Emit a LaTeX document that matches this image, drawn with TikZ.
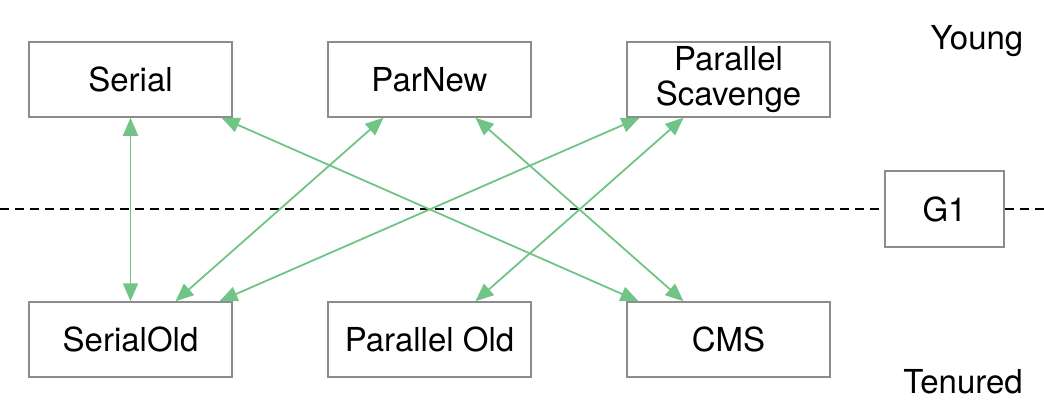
\documentclass[tikz,border=0pt]{standalone}
\usepackage{fontspec}
\setmainfont{TeX Gyre Heros}
\usetikzlibrary{arrows.meta}
\definecolor{gcgreen}{RGB}{112,196,134}
\definecolor{boxgray}{RGB}{140,140,140}
\begin{document}
\begin{tikzpicture}[x=1pt,y=-1pt,
  gcbox/.style={draw=boxgray,line width=1.5pt,minimum width=203pt,minimum height=75pt,inner sep=0pt,font=\fontsize{33}{35}\selectfont,align=center},
  link/.style={draw=gcgreen,line width=1.8pt,{Triangle[length=18pt,width=15pt]}-{Triangle[length=18pt,width=15pt]}},
  lbl/.style={font=\fontsize{33}{35}\selectfont,inner sep=0pt}]
\useasboundingbox (0,0) rectangle (1044,420);
\node[gcbox] (serial) at (130.5,79.5) {Serial};
\node[gcbox] (parnew) at (429.5,79.5) {ParNew};
\node[gcbox] (ps) at (728.5,79.5) {Parallel\\Scavenge};
\node[gcbox] (serialold) at (130.5,339.5) {SerialOld};
\node[gcbox] (parold) at (429.5,339.5) {Parallel Old};
\node[gcbox] (cms) at (728.5,339.5) {CMS};
\node[gcbox,minimum width=119pt,minimum height=76pt] (g1) at (944.5,209) {G1};
\node[lbl] (young) at (977,41) {Young};
\node[lbl] (tenured) at (963,382) {Tenured};
\coordinate (dl) at (0,209);
\coordinate (dr) at (1044,209);
\draw[line width=1.5pt,dash pattern=on 9pt off 6pt] (dl) -- (g1.west);
\draw[line width=1.5pt,dash pattern=on 9pt off 6pt] (g1.east) -- (dr);
\draw[link] (serial.south) -- (serialold.north);
\draw[link] ([xshift=91pt]serial.south) -- ([xshift=-90pt]cms.north);
\draw[link] ([xshift=-46pt]parnew.south) -- ([xshift=45pt]serialold.north);
\draw[link] ([xshift=46pt]parnew.south) -- ([xshift=-45pt]cms.north);
\draw[link] ([xshift=-89pt]ps.south) -- ([xshift=89pt]serialold.north);
\draw[link] ([xshift=-45pt]ps.south) -- ([xshift=46pt]parold.north);
\end{tikzpicture}
\end{document}
